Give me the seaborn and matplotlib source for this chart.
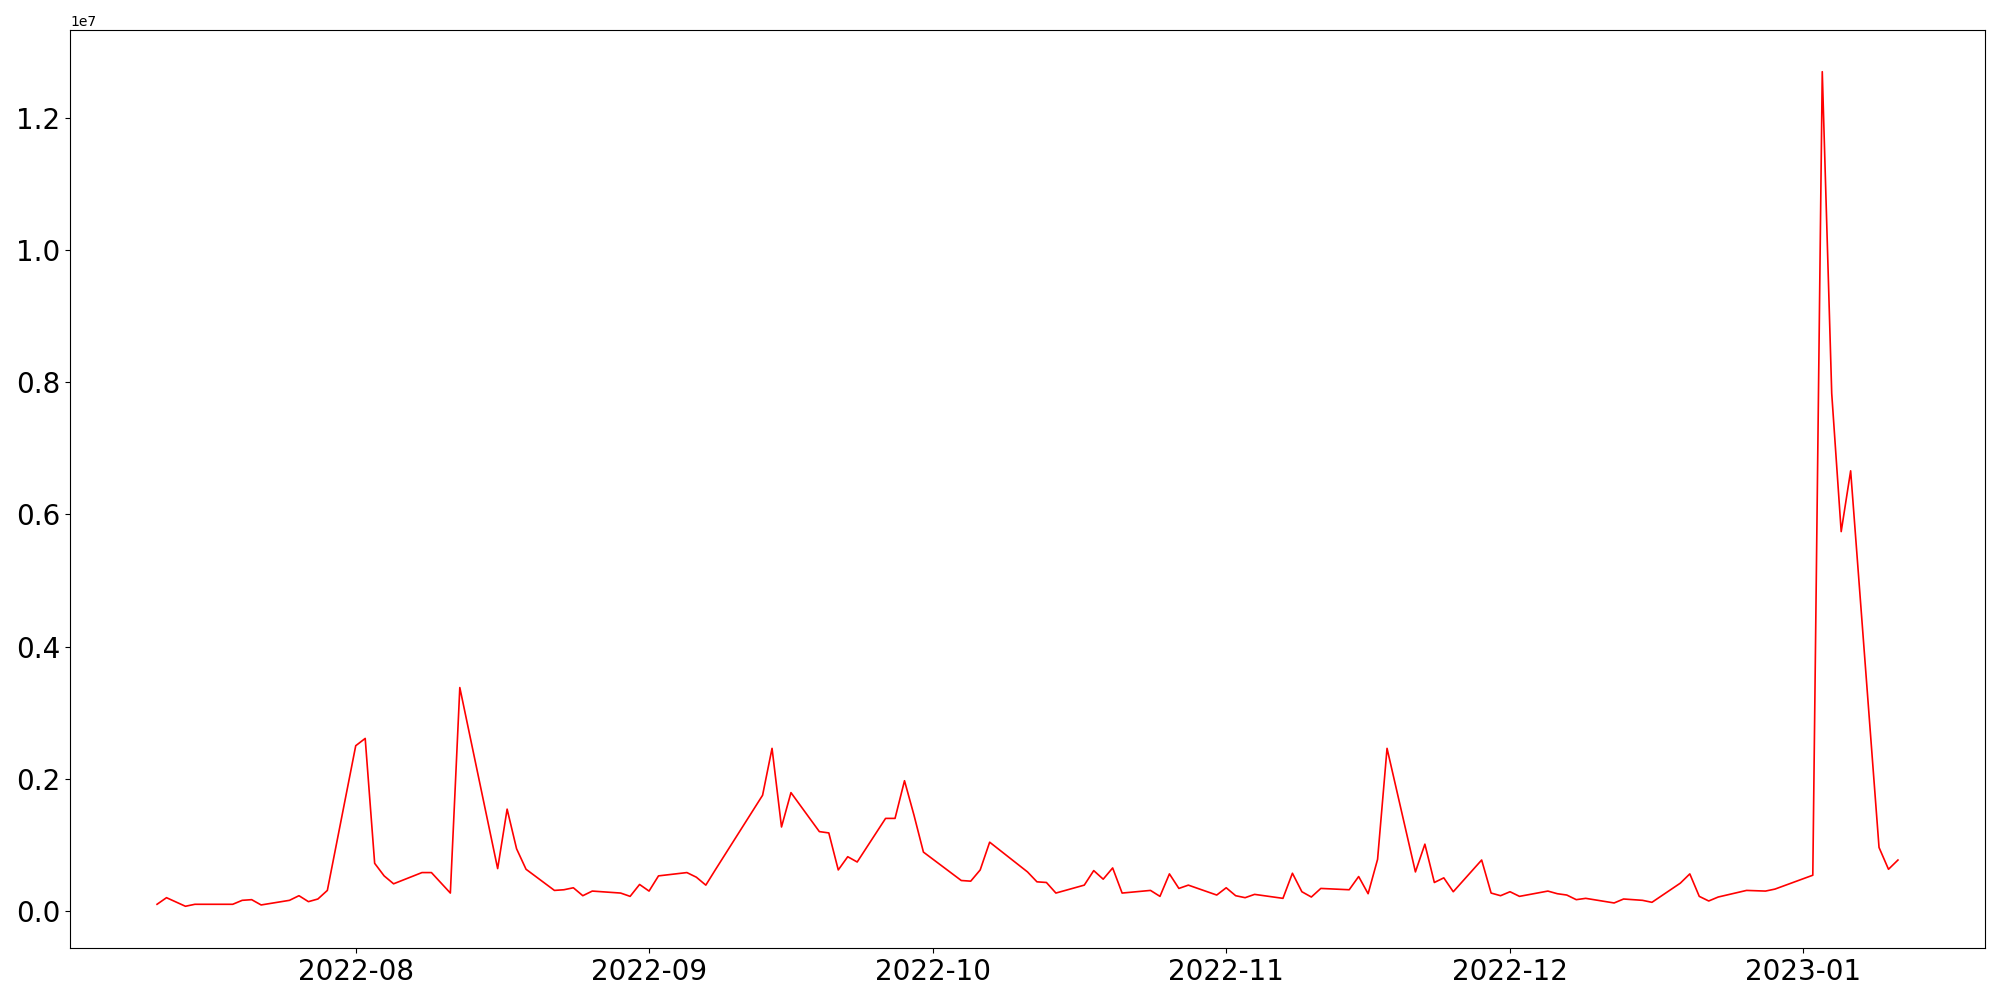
import matplotlib
matplotlib.use("Agg")
import matplotlib.pyplot as plt
import seaborn as sns
import pandas as pd

dates = [
    "2022-07-11", "2022-07-12", "2022-07-14", "2022-07-15", "2022-07-19", "2022-07-20",
    "2022-07-21", "2022-07-22", "2022-07-25", "2022-07-26", "2022-07-27", "2022-07-28",
    "2022-07-29", "2022-08-01", "2022-08-02", "2022-08-03", "2022-08-04", "2022-08-05",
    "2022-08-08", "2022-08-09", "2022-08-11", "2022-08-12", "2022-08-16", "2022-08-17",
    "2022-08-18", "2022-08-19", "2022-08-22", "2022-08-23", "2022-08-24", "2022-08-25",
    "2022-08-26", "2022-08-29", "2022-08-30", "2022-08-31", "2022-09-01", "2022-09-02",
    "2022-09-05", "2022-09-06", "2022-09-07", "2022-09-08", "2022-09-13", "2022-09-14",
    "2022-09-15", "2022-09-16", "2022-09-19", "2022-09-20", "2022-09-21", "2022-09-22",
    "2022-09-23", "2022-09-26", "2022-09-27", "2022-09-28", "2022-09-29", "2022-09-30",
    "2022-10-04", "2022-10-05", "2022-10-06", "2022-10-07", "2022-10-11", "2022-10-12",
    "2022-10-13", "2022-10-14", "2022-10-17", "2022-10-18", "2022-10-19", "2022-10-20",
    "2022-10-21", "2022-10-24", "2022-10-25", "2022-10-26", "2022-10-27", "2022-10-28",
    "2022-10-31", "2022-11-01", "2022-11-02", "2022-11-03", "2022-11-04", "2022-11-07",
    "2022-11-08", "2022-11-09", "2022-11-10", "2022-11-11", "2022-11-14", "2022-11-15",
    "2022-11-16", "2022-11-17", "2022-11-18", "2022-11-21", "2022-11-22", "2022-11-23",
    "2022-11-24", "2022-11-25", "2022-11-28", "2022-11-29", "2022-11-30", "2022-12-01",
    "2022-12-02", "2022-12-05", "2022-12-06", "2022-12-07", "2022-12-08", "2022-12-09",
    "2022-12-12", "2022-12-13", "2022-12-15", "2022-12-16", "2022-12-19", "2022-12-20",
    "2022-12-21", "2022-12-22", "2022-12-23", "2022-12-26", "2022-12-28", "2022-12-29",
    "2023-01-02", "2023-01-03", "2023-01-04", "2023-01-05", "2023-01-06", "2023-01-09",
    "2023-01-10", "2023-01-11",
]

values_millions = [
    0.10, 0.20, 0.07, 0.10, 0.10, 0.16,
    0.17, 0.09, 0.16, 0.23, 0.14, 0.18,
    0.31, 2.50, 2.61, 0.72, 0.53, 0.41,
    0.58, 0.58, 0.27, 3.38, 0.64, 1.54,
    0.94, 0.63, 0.31, 0.32, 0.35, 0.23,
    0.30, 0.27, 0.22, 0.40, 0.30, 0.53,
    0.58, 0.51, 0.39, 0.62, 1.75, 2.46,
    1.27, 1.79, 1.20, 1.18, 0.62, 0.82,
    0.74, 1.40, 1.40, 1.97, 1.45, 0.89,
    0.46, 0.45, 0.62, 1.04, 0.59, 0.44,
    0.43, 0.27, 0.39, 0.61, 0.48, 0.65,
    0.27, 0.31, 0.22, 0.56, 0.34, 0.39,
    0.24, 0.35, 0.23, 0.20, 0.25, 0.19,
    0.57, 0.29, 0.21, 0.34, 0.32, 0.52,
    0.26, 0.78, 2.46, 0.59, 1.01, 0.43,
    0.50, 0.29, 0.77, 0.27, 0.23, 0.29,
    0.22, 0.30, 0.26, 0.24, 0.17, 0.19,
    0.12, 0.18, 0.16, 0.13, 0.42, 0.56,
    0.22, 0.15, 0.21, 0.31, 0.30, 0.33,
    0.54, 12.70, 7.83, 5.74, 6.66, 0.96,
    0.63, 0.77,
]

df = pd.DataFrame({
    "date": pd.to_datetime(dates),
    "value": [v * 1e6 for v in values_millions],
})

fig, ax = plt.subplots(figsize=(20, 10), dpi=100)
sns.lineplot(data=df, x="date", y="value", color="red", linewidth=1.2, ax=ax)
ax.set_xlabel("")
ax.set_ylabel("")
ax.tick_params(axis="both", labelsize=20)
fig.subplots_adjust(left=0.035, right=0.9925, top=0.97, bottom=0.052)
fig.savefig("out.png", dpi=100)
